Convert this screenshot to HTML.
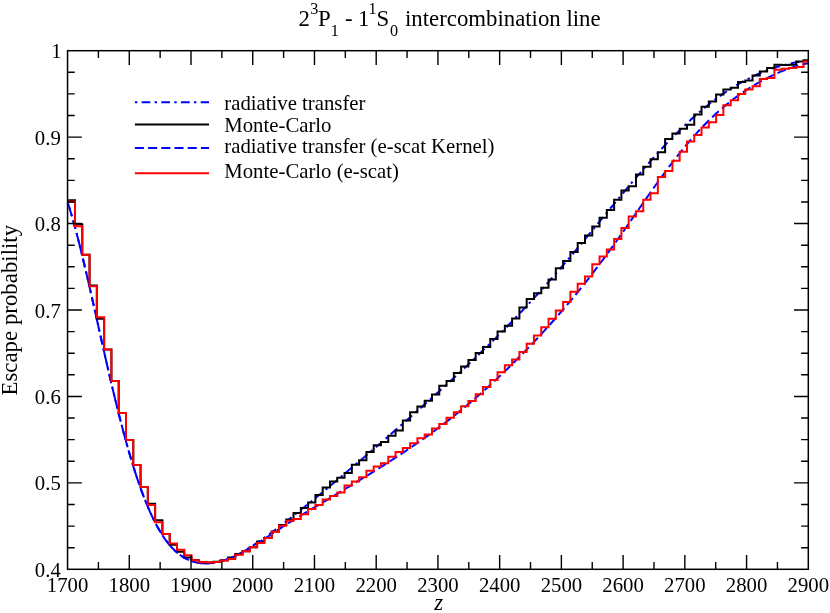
<!DOCTYPE html>
<html><head><meta charset="utf-8"><title>Escape probability</title>
<style>html,body{margin:0;padding:0;background:#fff;}body{width:830px;height:613px;overflow:hidden;position:relative;font-family:"Liberation Serif",serif;}</style></head>
<body>
<svg width="830" height="613" viewBox="0 0 830 613" style="position:absolute;left:0;top:0;will-change:transform;font-family:'Liberation Serif',serif;">
<rect width="830" height="613" fill="#fff"/>
<clipPath id="c"><rect x="67.55" y="50.7" width="740.75" height="518.5999999999999"/></clipPath>
<g clip-path="url(#c)" fill="none" stroke-linejoin="miter" stroke-linecap="butt">
<path d="M67.55,201.95 L69.55,208.27 L71.55,214.96 L73.55,221.99 L75.55,229.34 L77.55,236.96 L79.55,244.84 L81.55,252.93 L83.55,261.23 L85.55,269.69 L87.55,278.30 L89.55,287.02 L91.55,295.83 L93.55,304.72 L95.55,313.65 L97.55,322.60 L99.55,331.55 L101.55,340.49 L103.55,349.38 L105.55,358.22 L107.55,366.97 L109.55,375.64 L111.55,384.19 L113.55,392.61 L115.55,400.89 L117.55,409.01 L119.55,416.97 L121.55,424.75 L123.55,432.33 L125.55,439.72 L127.55,446.90 L129.55,453.87 L131.55,460.61 L133.55,467.13 L135.55,473.42 L137.55,479.47 L139.55,485.29 L141.55,490.87 L143.55,496.22 L145.55,501.33 L147.55,506.20 L149.55,510.84 L151.55,515.25 L153.55,519.42 L155.55,523.37 L157.55,527.10 L159.55,530.60 L161.55,533.89 L163.55,536.96 L165.55,539.83 L167.55,542.49 L169.55,544.96 L171.55,547.23 L173.55,549.32 L175.55,551.24 L177.55,552.98 L179.55,554.56 L181.55,555.99 L183.55,557.27 L185.55,558.41 L187.55,559.42 L189.55,560.30 L191.55,561.06 L193.55,561.70 L195.55,562.23 L197.55,562.66 L199.55,562.99 L201.55,563.22 L203.55,563.36 L205.55,563.41 L207.55,563.38 L209.55,563.26 L211.55,563.07 L213.55,562.80 L215.55,562.45 L217.55,562.05 L219.55,561.58 L221.55,561.05 L223.55,560.46 L225.55,559.81 L227.55,559.09 L229.55,558.32 L231.55,557.49 L233.55,556.60 L235.55,555.66 L237.55,554.66 L239.55,553.61 L241.55,552.51 L243.55,551.37 L245.55,550.18 L247.55,548.96 L249.55,547.70 L251.55,546.42 L253.55,545.11 L255.55,543.78 L257.55,542.43 L259.55,541.06 L261.55,539.67 L263.55,538.27 L265.55,536.84 L267.55,535.40 L269.55,533.95 L271.55,532.48 L273.55,530.99 L275.55,529.50 L277.55,528.00 L279.55,526.48 L281.55,524.96 L283.55,523.43 L285.55,521.88 L287.55,520.34 L289.55,518.78 L291.55,517.22 L293.55,515.64 L295.55,514.07 L297.55,512.48 L299.55,510.89 L301.55,509.30 L303.55,507.69 L305.55,506.08 L307.55,504.47 L309.55,502.85 L311.55,501.23 L313.55,499.60 L315.55,497.96 L317.55,496.33 L319.55,494.68 L321.55,493.04 L323.55,491.38 L325.55,489.73 L327.55,488.07 L329.55,486.41 L331.55,484.74 L333.55,483.07 L335.55,481.40 L337.55,479.72 L339.55,478.04 L341.55,476.36 L343.55,474.67 L345.55,472.99 L347.55,471.30 L349.55,469.60 L351.55,467.91 L353.55,466.21 L355.55,464.51 L357.55,462.80 L359.55,461.10 L361.55,459.39 L363.55,457.68 L365.55,455.97 L367.55,454.26 L369.55,452.54 L371.55,450.82 L373.55,449.10 L375.55,447.38 L377.55,445.66 L379.55,443.93 L381.55,442.20 L383.55,440.47 L385.55,438.74 L387.55,437.00 L389.55,435.27 L391.55,433.53 L393.55,431.79 L395.55,430.04 L397.55,428.30 L399.55,426.55 L401.55,424.80 L403.55,423.05 L405.55,421.29 L407.55,419.53 L409.55,417.77 L411.55,416.01 L413.55,414.24 L415.55,412.47 L417.55,410.70 L419.55,408.93 L421.55,407.15 L423.55,405.37 L425.55,403.58 L427.55,401.80 L429.55,400.01 L431.55,398.21 L433.55,396.41 L435.55,394.61 L437.55,392.80 L439.55,390.99 L441.55,389.18 L443.55,387.36 L445.55,385.54 L447.55,383.71 L449.55,381.88 L451.55,380.04 L453.55,378.20 L455.55,376.35 L457.55,374.50 L459.55,372.65 L461.55,370.78 L463.55,368.92 L465.55,367.04 L467.55,365.16 L469.55,363.28 L471.55,361.38 L473.55,359.48 L475.55,357.58 L477.55,355.67 L479.55,353.75 L481.55,351.82 L483.55,349.89 L485.55,347.95 L487.55,346.00 L489.55,344.04 L491.55,342.08 L493.55,340.10 L495.55,338.12 L497.55,336.13 L499.55,334.13 L501.55,332.13 L503.55,330.11 L505.55,328.08 L507.55,326.04 L509.55,324.00 L511.55,321.94 L513.55,319.87 L515.55,317.79 L517.55,315.70 L519.55,313.60 L521.55,311.49 L523.55,309.37 L525.55,307.24 L527.55,305.10 L529.55,302.94 L531.55,300.78 L533.55,298.60 L535.55,296.41 L537.55,294.22 L539.55,292.01 L541.55,289.79 L543.55,287.56 L545.55,285.31 L547.55,283.06 L549.55,280.80 L551.55,278.53 L553.55,276.24 L555.55,273.95 L557.55,271.65 L559.55,269.34 L561.55,267.02 L563.55,264.69 L565.55,262.35 L567.55,260.00 L569.55,257.64 L571.55,255.28 L573.55,252.91 L575.55,250.53 L577.55,248.15 L579.55,245.76 L581.55,243.36 L583.55,240.96 L585.55,238.55 L587.55,236.13 L589.55,233.72 L591.55,231.30 L593.55,228.87 L595.55,226.44 L597.55,224.01 L599.55,221.58 L601.55,219.15 L603.55,216.72 L605.55,214.28 L607.55,211.85 L609.55,209.42 L611.55,206.99 L613.55,204.57 L615.55,202.14 L617.55,199.72 L619.55,197.31 L621.55,194.90 L623.55,192.49 L625.55,190.10 L627.55,187.71 L629.55,185.33 L631.55,182.96 L633.55,180.59 L635.55,178.24 L637.55,175.90 L639.55,173.57 L641.55,171.26 L643.55,168.95 L645.55,166.66 L647.55,164.39 L649.55,162.13 L651.55,159.89 L653.55,157.66 L655.55,155.45 L657.55,153.25 L659.55,151.08 L661.55,148.92 L663.55,146.78 L665.55,144.66 L667.55,142.57 L669.55,140.49 L671.55,138.43 L673.55,136.39 L675.55,134.38 L677.55,132.39 L679.55,130.42 L681.55,128.47 L683.55,126.55 L685.55,124.65 L687.55,122.78 L689.55,120.93 L691.55,119.10 L693.55,117.30 L695.55,115.53 L697.55,113.78 L699.55,112.05 L701.55,110.36 L703.55,108.69 L705.55,107.05 L707.55,105.43 L709.55,103.84 L711.55,102.28 L713.55,100.75 L715.55,99.24 L717.55,97.77 L719.55,96.32 L721.55,94.90 L723.55,93.51 L725.55,92.14 L727.55,90.81 L729.55,89.50 L731.55,88.23 L733.55,86.98 L735.55,85.76 L737.55,84.57 L739.55,83.41 L741.55,82.28 L743.55,81.18 L745.55,80.11 L747.55,79.06 L749.55,78.05 L751.55,77.06 L753.55,76.10 L755.55,75.17 L757.55,74.27 L759.55,73.40 L761.55,72.56 L763.55,71.75 L765.55,70.96 L767.55,70.20 L769.55,69.47 L771.55,68.77 L773.55,68.09 L775.55,67.45 L777.55,66.82 L779.55,66.23 L781.55,65.66 L783.55,65.12 L785.55,64.61 L787.55,64.12 L789.55,63.65 L791.55,63.21 L793.55,62.80 L795.55,62.41 L797.55,62.04 L799.55,61.70 L801.55,61.38 L803.55,61.09 L805.55,60.81 L808.30,60.47" stroke="#0000ff" stroke-width="2" stroke-dasharray="2.4 4.3 8.7 4.3" stroke-dashoffset="7.1"/>
<path d="M67.55,200.20H74.99V224.20H82.27V254.80H89.56V285.60H96.84V318.80H104.13V349.50H111.41V381.00H118.70V413.00H125.98V440.10H133.27V465.00H140.56V487.00H147.84V503.80H155.13V520.30H162.41V534.00H169.70V544.80H176.98V551.80H184.27V557.60H191.55V560.30H198.84V562.30H206.12V562.40H213.41V561.70H220.70V560.20H227.98V557.40H235.27V554.10H242.55V551.30H249.84V547.20H257.12V541.40H264.41V538.10H271.69V531.60H278.98V524.90H286.26V519.40H293.55V512.90H300.84V508.00H308.12V502.40H315.41V495.00H322.69V487.40H329.98V481.50H337.26V477.70H344.55V473.00H351.83V464.80H359.12V460.30H366.41V452.00H373.69V445.20H380.98V442.00H388.26V435.80H395.55V430.60H402.83V420.40H410.12V412.30H417.40V406.50H424.69V400.70H431.97V394.60H439.26V385.80H446.55V380.90H453.83V373.10H461.12V366.50H468.40V360.10H475.69V353.10H482.97V347.00H490.26V338.90H497.54V331.60H504.83V325.70H512.12V318.40H519.40V307.50H526.69V299.10H533.97V293.30H541.26V287.80H548.54V279.60H555.83V268.30H563.11V261.00H570.40V251.90H577.69V242.90H584.97V235.40H592.26V226.40H599.54V217.70H606.83V210.00H614.11V199.80H621.40V190.50H628.68V186.20H635.97V174.50H643.25V166.80H650.54V159.30H657.83V152.20H665.11V138.90H672.40V133.40H679.68V128.80H686.97V124.80H694.25V114.50H701.54V106.80H708.82V101.40H716.11V94.60H723.39V89.40H730.68V87.70H737.97V81.90H745.25V80.40H752.54V75.60H759.82V71.60H767.11V68.10H774.39V64.80H781.68V65.10H788.96V64.80H796.25V61.50H803.54V60.20H808.30" stroke="#000" stroke-width="2"/>
<path d="M67.55,201.95 L69.55,208.27 L71.55,214.96 L73.55,221.99 L75.55,229.34 L77.55,236.96 L79.55,244.84 L81.55,252.93 L83.55,261.23 L85.55,269.69 L87.55,278.30 L89.55,287.02 L91.55,295.83 L93.55,304.72 L95.55,313.65 L97.55,322.60 L99.55,331.55 L101.55,340.49 L103.55,349.38 L105.55,358.22 L107.55,366.97 L109.55,375.64 L111.55,384.19 L113.55,392.61 L115.55,400.89 L117.55,409.01 L119.55,416.97 L121.55,424.75 L123.55,432.33 L125.55,439.72 L127.55,446.90 L129.55,453.87 L131.55,460.61 L133.55,467.13 L135.55,473.42 L137.55,479.47 L139.55,485.29 L141.55,490.87 L143.55,496.22 L145.55,501.33 L147.55,506.20 L149.55,510.84 L151.55,515.25 L153.55,519.42 L155.55,523.37 L157.55,527.10 L159.55,530.60 L161.55,533.89 L163.55,536.96 L165.55,539.83 L167.55,542.49 L169.55,544.96 L171.55,547.23 L173.55,549.32 L175.55,551.24 L177.55,552.98 L179.55,554.56 L181.55,555.99 L183.55,557.27 L185.55,558.41 L187.55,559.42 L189.55,560.30 L191.55,561.06 L193.55,561.70 L195.55,562.23 L197.55,562.66 L199.55,562.99 L201.55,563.22 L203.55,563.36 L205.55,563.41 L207.55,563.38 L209.55,563.26 L211.55,563.07 L213.55,562.80 L215.55,562.45 L217.55,562.04 L219.55,561.56 L221.55,561.01 L223.55,560.41 L225.55,559.74 L227.55,559.02 L229.55,558.25 L231.55,557.42 L233.55,556.55 L235.55,555.63 L237.55,554.67 L239.55,553.67 L241.55,552.63 L243.55,551.55 L245.55,550.44 L247.55,549.31 L249.55,548.14 L251.55,546.95 L253.55,545.74 L255.55,544.50 L257.55,543.25 L259.55,541.98 L261.55,540.70 L263.55,539.40 L265.55,538.10 L267.55,536.79 L269.55,535.47 L271.55,534.15 L273.55,532.82 L275.55,531.50 L277.55,530.18 L279.55,528.87 L281.55,527.56 L283.55,526.26 L285.55,524.96 L287.55,523.68 L289.55,522.41 L291.55,521.16 L293.55,519.91 L295.55,518.68 L297.55,517.46 L299.55,516.25 L301.55,515.05 L303.55,513.85 L305.55,512.67 L307.55,511.48 L309.55,510.30 L311.55,509.11 L313.55,507.93 L315.55,506.74 L317.55,505.55 L319.55,504.36 L321.55,503.17 L323.55,501.97 L325.55,500.77 L327.55,499.57 L329.55,498.37 L331.55,497.16 L333.55,495.96 L335.55,494.75 L337.55,493.54 L339.55,492.34 L341.55,491.13 L343.55,489.92 L345.55,488.70 L347.55,487.49 L349.55,486.28 L351.55,485.06 L353.55,483.85 L355.55,482.63 L357.55,481.41 L359.55,480.19 L361.55,478.97 L363.55,477.75 L365.55,476.52 L367.55,475.30 L369.55,474.06 L371.55,472.83 L373.55,471.59 L375.55,470.35 L377.55,469.10 L379.55,467.86 L381.55,466.60 L383.55,465.34 L385.55,464.08 L387.55,462.81 L389.55,461.53 L391.55,460.25 L393.55,458.96 L395.55,457.66 L397.55,456.36 L399.55,455.05 L401.55,453.73 L403.55,452.41 L405.55,451.08 L407.55,449.74 L409.55,448.39 L411.55,447.03 L413.55,445.66 L415.55,444.29 L417.55,442.90 L419.55,441.51 L421.55,440.11 L423.55,438.69 L425.55,437.27 L427.55,435.84 L429.55,434.39 L431.55,432.94 L433.55,431.47 L435.55,430.00 L437.55,428.51 L439.55,427.01 L441.55,425.50 L443.55,423.98 L445.55,422.45 L447.55,420.91 L449.55,419.35 L451.55,417.78 L453.55,416.20 L455.55,414.61 L457.55,413.01 L459.55,411.39 L461.55,409.76 L463.55,408.12 L465.55,406.46 L467.55,404.79 L469.55,403.11 L471.55,401.42 L473.55,399.71 L475.55,397.99 L477.55,396.26 L479.55,394.52 L481.55,392.76 L483.55,390.98 L485.55,389.20 L487.55,387.40 L489.55,385.59 L491.55,383.76 L493.55,381.92 L495.55,380.07 L497.55,378.21 L499.55,376.33 L501.55,374.43 L503.55,372.53 L505.55,370.61 L507.55,368.68 L509.55,366.73 L511.55,364.77 L513.55,362.80 L515.55,360.81 L517.55,358.81 L519.55,356.80 L521.55,354.77 L523.55,352.73 L525.55,350.68 L527.55,348.62 L529.55,346.54 L531.55,344.44 L533.55,342.34 L535.55,340.22 L537.55,338.08 L539.55,335.94 L541.55,333.78 L543.55,331.60 L545.55,329.41 L547.55,327.21 L549.55,324.99 L551.55,322.75 L553.55,320.51 L555.55,318.24 L557.55,315.96 L559.55,313.67 L561.55,311.36 L563.55,309.04 L565.55,306.70 L567.55,304.34 L569.55,301.97 L571.55,299.57 L573.55,297.17 L575.55,294.74 L577.55,292.30 L579.55,289.84 L581.55,287.36 L583.55,284.86 L585.55,282.35 L587.55,279.81 L589.55,277.26 L591.55,274.68 L593.55,272.09 L595.55,269.48 L597.55,266.85 L599.55,264.19 L601.55,261.52 L603.55,258.84 L605.55,256.13 L607.55,253.41 L609.55,250.66 L611.55,247.91 L613.55,245.13 L615.55,242.34 L617.55,239.54 L619.55,236.73 L621.55,233.90 L623.55,231.06 L625.55,228.21 L627.55,225.35 L629.55,222.49 L631.55,219.62 L633.55,216.74 L635.55,213.86 L637.55,210.98 L639.55,208.10 L641.55,205.22 L643.55,202.35 L645.55,199.48 L647.55,196.62 L649.55,193.76 L651.55,190.92 L653.55,188.10 L655.55,185.28 L657.55,182.49 L659.55,179.71 L661.55,176.95 L663.55,174.22 L665.55,171.50 L667.55,168.82 L669.55,166.15 L671.55,163.52 L673.55,160.91 L675.55,158.33 L677.55,155.78 L679.55,153.26 L681.55,150.78 L683.55,148.33 L685.55,145.91 L687.55,143.52 L689.55,141.18 L691.55,138.87 L693.55,136.59 L695.55,134.35 L697.55,132.15 L699.55,129.99 L701.55,127.86 L703.55,125.78 L705.55,123.73 L707.55,121.72 L709.55,119.75 L711.55,117.82 L713.55,115.93 L715.55,114.07 L717.55,112.26 L719.55,110.48 L721.55,108.74 L723.55,107.04 L725.55,105.37 L727.55,103.74 L729.55,102.15 L731.55,100.59 L733.55,99.06 L735.55,97.57 L737.55,96.12 L739.55,94.69 L741.55,93.29 L743.55,91.93 L745.55,90.60 L747.55,89.29 L749.55,88.02 L751.55,86.77 L753.55,85.55 L755.55,84.36 L757.55,83.20 L759.55,82.06 L761.55,80.95 L763.55,79.87 L765.55,78.82 L767.55,77.79 L769.55,76.79 L771.55,75.81 L773.55,74.87 L775.55,73.95 L777.55,73.06 L779.55,72.20 L781.55,71.36 L783.55,70.56 L785.55,69.78 L787.55,69.04 L789.55,68.32 L791.55,67.64 L793.55,66.99 L795.55,66.37 L797.55,65.78 L799.55,65.23 L801.55,64.72 L803.55,64.24 L805.55,63.79 L808.30,63.25" stroke="#0000ff" stroke-width="2" stroke-dasharray="9 4.2" stroke-dashoffset="7.2"/>
<path d="M67.55,201.60H74.99V226.30H82.27V254.80H89.56V286.30H96.84V317.20H104.13V349.50H111.41V381.00H118.70V413.00H125.98V440.10H133.27V465.00H140.56V487.00H147.84V505.00H155.13V522.30H162.41V534.00H169.70V543.60H176.98V549.80H184.27V555.30H191.55V560.30H198.84V562.30H206.12V562.60H213.41V561.90H220.70V560.40H227.98V559.00H235.27V554.80H242.55V551.30H249.84V547.20H257.12V543.00H264.41V538.10H271.69V531.80H278.98V525.80H286.26V520.70H293.55V518.90H300.84V514.20H308.12V509.00H315.41V505.00H322.69V499.50H329.98V496.00H337.26V492.60H344.55V485.50H351.83V481.50H359.12V477.20H366.41V470.70H373.69V466.40H380.98V463.30H388.26V456.70H395.55V452.00H402.83V448.10H410.12V443.30H417.40V438.20H424.69V434.40H431.97V428.50H439.26V424.00H446.55V417.70H453.83V412.20H461.12V406.30H468.40V401.10H475.69V394.20H482.97V387.00H490.26V380.00H497.54V372.20H504.83V365.30H512.12V359.50H519.40V352.10H526.69V343.80H533.97V335.50H541.26V327.20H548.54V318.80H555.83V310.60H563.11V302.10H570.40V291.80H577.69V283.70H584.97V276.40H592.26V264.30H599.54V256.60H606.83V249.50H614.11V238.90H621.40V228.00H628.68V216.60H635.97V211.20H643.25V199.80H650.54V193.20H657.83V176.90H665.11V171.00H672.40V160.80H679.68V151.80H686.97V141.60H694.25V135.00H701.54V127.50H708.82V122.30H716.11V115.00H723.39V105.20H730.68V100.30H737.97V94.00H745.25V89.50H752.54V86.30H759.82V78.90H767.11V78.10H774.39V69.80H781.68V68.70H788.96V68.10H796.25V67.00H803.54V61.50H808.30" stroke="#ff0000" stroke-width="2"/>
</g>
<path d="M98.41,569.3v-7.2M98.41,50.7v7.2M129.28,569.3v-14.3M129.28,50.7v14.3M160.14,569.3v-7.2M160.14,50.7v7.2M191.01,569.3v-14.3M191.01,50.7v14.3M221.87,569.3v-7.2M221.87,50.7v7.2M252.74,569.3v-14.3M252.74,50.7v14.3M283.60,569.3v-7.2M283.60,50.7v7.2M314.47,569.3v-14.3M314.47,50.7v14.3M345.33,569.3v-7.2M345.33,50.7v7.2M376.20,569.3v-14.3M376.20,50.7v14.3M407.06,569.3v-7.2M407.06,50.7v7.2M437.93,569.3v-14.3M437.93,50.7v14.3M468.79,569.3v-7.2M468.79,50.7v7.2M499.65,569.3v-14.3M499.65,50.7v14.3M530.52,569.3v-7.2M530.52,50.7v7.2M561.38,569.3v-14.3M561.38,50.7v14.3M592.25,569.3v-7.2M592.25,50.7v7.2M623.11,569.3v-14.3M623.11,50.7v14.3M653.98,569.3v-7.2M653.98,50.7v7.2M684.84,569.3v-14.3M684.84,50.7v14.3M715.71,569.3v-7.2M715.71,50.7v7.2M746.57,569.3v-14.3M746.57,50.7v14.3M777.44,569.3v-7.2M777.44,50.7v7.2M67.55,547.69h7.2M808.3,547.69h-7.2M67.55,526.08h7.2M808.3,526.08h-7.2M67.55,504.47h7.2M808.3,504.47h-7.2M67.55,482.87h14.3M808.3,482.87h-14.3M67.55,461.26h7.2M808.3,461.26h-7.2M67.55,439.65h7.2M808.3,439.65h-7.2M67.55,418.04h7.2M808.3,418.04h-7.2M67.55,396.43h14.3M808.3,396.43h-14.3M67.55,374.82h7.2M808.3,374.82h-7.2M67.55,353.22h7.2M808.3,353.22h-7.2M67.55,331.61h7.2M808.3,331.61h-7.2M67.55,310.00h14.3M808.3,310.00h-14.3M67.55,288.39h7.2M808.3,288.39h-7.2M67.55,266.78h7.2M808.3,266.78h-7.2M67.55,245.18h7.2M808.3,245.18h-7.2M67.55,223.57h14.3M808.3,223.57h-14.3M67.55,201.96h7.2M808.3,201.96h-7.2M67.55,180.35h7.2M808.3,180.35h-7.2M67.55,158.74h7.2M808.3,158.74h-7.2M67.55,137.13h14.3M808.3,137.13h-14.3M67.55,115.52h7.2M808.3,115.52h-7.2M67.55,93.92h7.2M808.3,93.92h-7.2M67.55,72.31h7.2M808.3,72.31h-7.2" stroke="#000" stroke-width="1.4" fill="none"/>
<rect x="67.55" y="50.7" width="740.75" height="518.5999999999999" fill="none" stroke="#000" stroke-width="1.5"/>
<text x="67.55" y="591.9" font-size="20.75" text-anchor="middle">1700</text>
<text x="129.28" y="591.9" font-size="20.75" text-anchor="middle">1800</text>
<text x="191.01" y="591.9" font-size="20.75" text-anchor="middle">1900</text>
<text x="252.74" y="591.9" font-size="20.75" text-anchor="middle">2000</text>
<text x="314.47" y="591.9" font-size="20.75" text-anchor="middle">2100</text>
<text x="376.20" y="591.9" font-size="20.75" text-anchor="middle">2200</text>
<text x="437.93" y="591.9" font-size="20.75" text-anchor="middle">2300</text>
<text x="499.65" y="591.9" font-size="20.75" text-anchor="middle">2400</text>
<text x="561.38" y="591.9" font-size="20.75" text-anchor="middle">2500</text>
<text x="623.11" y="591.9" font-size="20.75" text-anchor="middle">2600</text>
<text x="684.84" y="591.9" font-size="20.75" text-anchor="middle">2700</text>
<text x="746.57" y="591.9" font-size="20.75" text-anchor="middle">2800</text>
<text x="808.30" y="591.9" font-size="20.75" text-anchor="middle">2900</text>
<text x="60.8" y="576.80" font-size="20.75" text-anchor="end">0.4</text>
<text x="60.8" y="490.37" font-size="20.75" text-anchor="end">0.5</text>
<text x="60.8" y="403.93" font-size="20.75" text-anchor="end">0.6</text>
<text x="60.8" y="317.50" font-size="20.75" text-anchor="end">0.7</text>
<text x="60.8" y="231.07" font-size="20.75" text-anchor="end">0.8</text>
<text x="60.8" y="144.63" font-size="20.75" text-anchor="end">0.9</text>
<text x="61.6" y="58.20" font-size="20.75" text-anchor="end">1</text>
<text x="438.7" y="609.8" font-size="22.85" font-style="italic" text-anchor="middle">z</text>
<text transform="translate(17.4,310.2) rotate(-90)" font-size="22.85" text-anchor="middle">Escape probability</text>
<text x="298.5" y="26.4" font-size="22.8">2</text>
<text x="310.2" y="13.6" font-size="16.2">3</text>
<text x="318.0" y="26.4" font-size="22.8">P</text>
<text x="330.8" y="36.1" font-size="16.2">1</text>
<text x="345.0" y="26.4" font-size="22.8">-</text>
<text x="358.0" y="26.4" font-size="22.8">1</text>
<text x="368.6" y="13.6" font-size="16.2">1</text>
<text x="376.5" y="26.4" font-size="22.8">S</text>
<text x="390.1" y="36.1" font-size="16.2">0</text>
<text x="405.0" y="26.4" font-size="22.8">intercombination line</text>
<line x1="134.9" y1="102.3" x2="209.0" y2="102.3" stroke="#0000ff" stroke-width="2" stroke-dasharray="2.4 4.3 8.7 4.3"/>
<text x="224.3" y="109.8" font-size="20.75">radiative transfer</text>
<line x1="134.9" y1="124.5" x2="209.0" y2="124.5" stroke="#000" stroke-width="2"/>
<text x="224.3" y="131.6" font-size="20.75">Monte-Carlo</text>
<line x1="134.9" y1="147.9" x2="209.0" y2="147.9" stroke="#0000ff" stroke-width="2" stroke-dasharray="9 4.2"/>
<text x="224.3" y="153.3" font-size="20.75">radiative transfer (e-scat Kernel)</text>
<line x1="134.9" y1="173.2" x2="209.0" y2="173.2" stroke="#ff0000" stroke-width="2"/>
<text x="224.3" y="178.1" font-size="20.75">Monte-Carlo (e-scat)</text>
</svg>
</body></html>
